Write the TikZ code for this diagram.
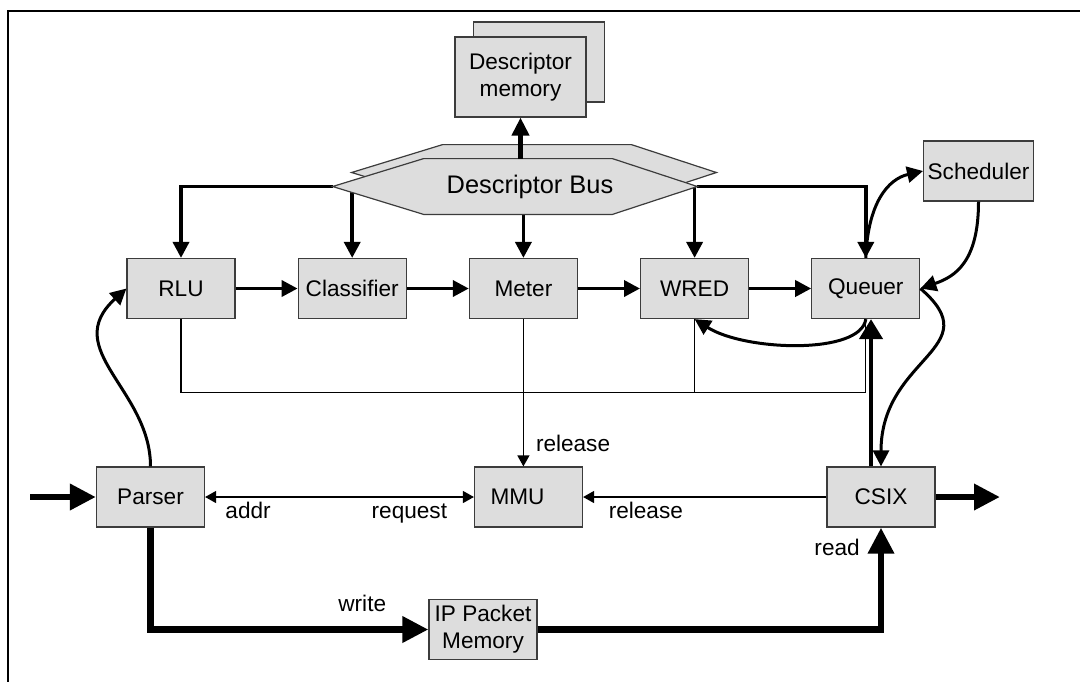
\documentclass[tikz,border=0pt]{standalone}
\usepackage{fontspec}
\setmainfont{Liberation Sans}
\usetikzlibrary{positioning,arrows.meta}
\pgfdeclarelayer{wires}
\pgfdeclarelayer{hex}
\pgfsetlayers{wires,hex,main}
\definecolor{boxgray}{RGB}{221,221,221}
\definecolor{edgegray}{RGB}{60,60,60}
\tikzset{block/.style={draw=edgegray,fill=boxgray,line width=0.6pt,minimum width=54pt,minimum height=30pt,inner sep=2pt,align=center,font=\fontsize{11.3}{13.6}\selectfont},
  lbl/.style={inner sep=2pt,text height=8.5pt,text depth=2.5pt,font=\fontsize{11.3}{13.6}\selectfont},
  hexfill/.style={draw=edgegray,fill=boxgray,line width=0.6pt},
  busline/.style={line width=1.8pt,>={Triangle[length=8pt,width=8pt]},->},
  thinline/.style={line width=0.6pt,>={Triangle[length=5.5pt,width=6pt]}},
  curvy/.style={line width=1.5pt,>={Triangle[length=8pt,width=8pt]},->},
  packet/.style={line width=3.3pt,>={Triangle[length=13pt,width=12.5pt]},->},
}

\begin{document}
\begin{tikzpicture}[x=0.5pt,y=-0.5pt,node distance=31pt]
	\useasboundingbox (0,0) rectangle (1080,682);
	\draw[line width=1.35pt] (1080,11) -- (8,11) -- (8,682);

	% processing chain
	\node[block] (rlu) at (181,288.5) {RLU};
	\node[block,right=of rlu] (classifier) {Classifier};
	\node[block,right=of classifier] (meter) {Meter};
	\node[block,right=of meter] (wred) {WRED};
	\node[block,right=of wred] (queuer) {Queuer};
	\node[block] (scheduler) at (978.5,171) {Scheduler};

	\node[block] (parser) at (150.5,497) {Parser};
	\node[block] (mmu) at (528.5,497) {MMU\hspace*{11pt}};
	\node[block] (csix) at (881,497) {CSIX};
	\node[block] (ipmem) at (483,629.5) {IP Packet\\Memory};

	% descriptor memory (stacked)
	\node[block,minimum width=65.5pt,minimum height=40pt] (memback) at (539,62) {};
	\node[block,minimum width=65.5pt,minimum height=40pt] (mem) at (520.5,77) {Descriptor\\memory};

	% descriptor bus
	\node[minimum width=182pt,minimum height=27.5pt,inner sep=0pt,font=\fontsize{12.7}{15}\selectfont] (bus) at (515,186.5) {\hspace*{15pt}Descriptor Bus};
	\begin{pgfonlayer}{hex}
	\foreach \dx/\dy in {9.5/7,0/0}
		\draw[hexfill] ([xshift=\dx pt,yshift=\dy pt]bus.west)
			-- ([xshift=45.5pt+\dx pt,yshift=\dy pt]bus.north west)
			-- ([xshift=-42.5pt+\dx pt,yshift=\dy pt]bus.north east)
			-- ([xshift=\dx pt,yshift=\dy pt]bus.east)
			-- ([xshift=-42.5pt+\dx pt,yshift=\dy pt]bus.south east)
			-- ([xshift=45.5pt+\dx pt,yshift=\dy pt]bus.south west) -- cycle;
	\end{pgfonlayer}
	\begin{pgfonlayer}{wires}
	\draw[busline] (bus.west) -| (rlu.north);
	\draw[busline] (bus.west -| classifier.north) -- (classifier.north);
	\draw[busline] (bus.south -| meter.north) -- (meter.north);
	\draw[busline] (bus.east -| wred.north) -- (wred.north);
	\draw[busline] (bus.east) -| (queuer.north);
	\end{pgfonlayer}
	\draw[line width=2.1pt,-{Triangle[length=9pt,width=8.5pt]}] (bus.north -| mem.south) -- (mem.south);

	\foreach \a/\b in {rlu/classifier,classifier/meter,meter/wred,wred/queuer}
		\draw[busline] (\a) -- (\b);

	% release lines to the MMU
	\draw[thinline] (rlu.south) -- ++(0,73.5) -| (queuer.south);
	\draw[thinline] (wred.south) -- ++(0,73.5);
	\draw[thinline,->] (meter.south) -- (meter.south |- mmu.north)
		node[lbl,pos=0.86,anchor=west,xshift=4pt] (relmeter) {release};
	\draw[thinline,<->] (parser) -- (mmu)
		node[lbl,pos=0.16,anchor=north] (addr) {addr}
		node[lbl,pos=0.76,anchor=north] (request) {request};
	\draw[thinline,->] (csix) -- (mmu)
		node[lbl,pos=0.742,anchor=north] (relcsix) {release};

	% scheduling loops
	\draw[curvy] (parser.north) .. controls +(0,-77) and +(-67,61) .. (rlu.west);
	\draw[curvy] (queuer.north) .. controls +(2,-55) and +(-35,8) .. (scheduler.west);
	\draw[curvy] (scheduler.south) .. controls +(0,60) and +(35,-12) .. (queuer.east);
	\draw[curvy] (queuer.south) .. controls +(-5,36) and +(50,32) .. (wred.south);
	\draw[curvy] (queuer.east) .. controls +(70,60) and +(0,-110) .. (csix.north);
	\draw[line width=2.2pt,-{Triangle[length=10pt,width=11.5pt]}] ([xshift=-5pt]csix.north) -- ([xshift=-5pt]csix.north |- queuer.south);

	% packet data path
	\coordinate (pktin) at (30,497);
	\coordinate (pktout) at (1000,497);
	\draw[packet] (pktin) -- (parser);
	\draw[packet] (csix) -- (pktout);
	\draw[packet] (parser.south) |- (ipmem.west)
		node[lbl,pos=0.881,anchor=south,yshift=3pt] (write) {write};
	\draw[packet] (ipmem.east) -| (csix.south)
		node[lbl,pos=0.892,anchor=east,xshift=-7pt] (read) {read};
\end{tikzpicture}
\end{document}
